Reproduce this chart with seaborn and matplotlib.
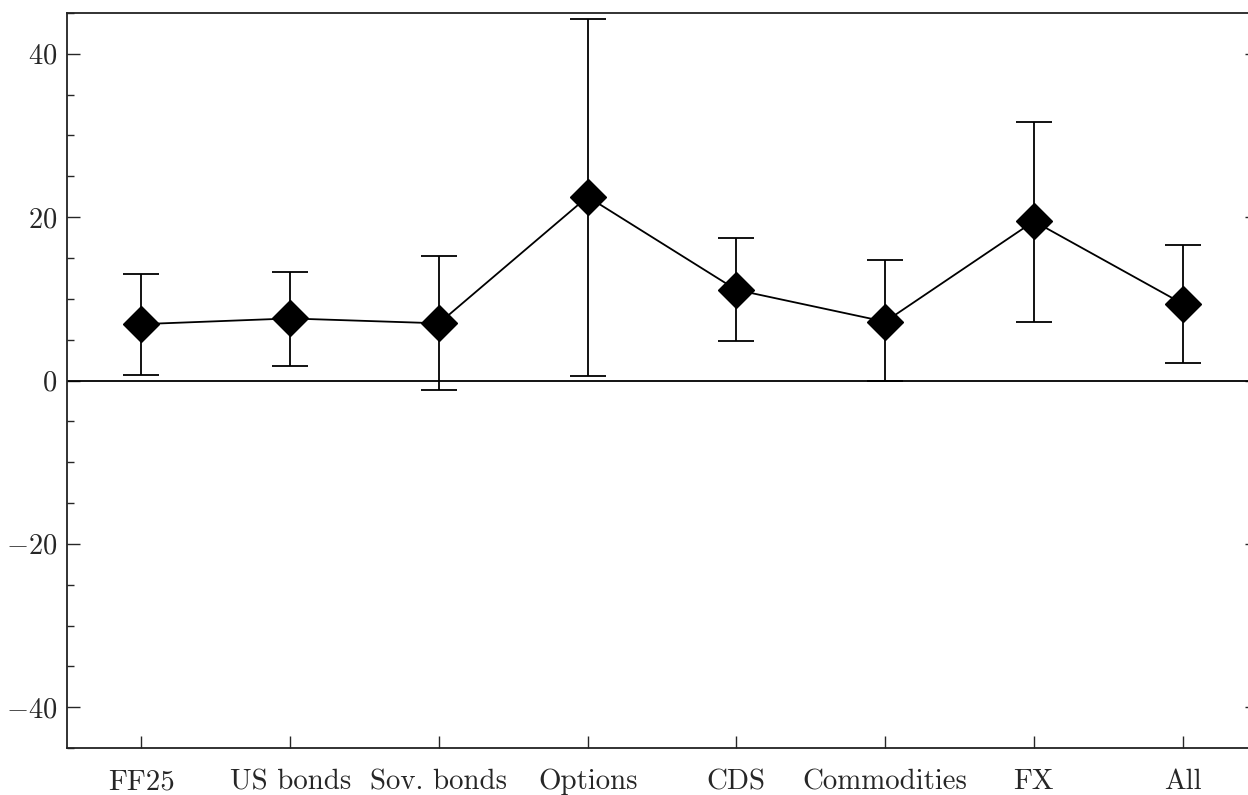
import matplotlib
matplotlib.use("Agg")
import numpy as np
import pandas as pd
import matplotlib.pyplot as plt
from matplotlib.ticker import MultipleLocator
import seaborn as sns

# values
categories = ["FF25", "US bonds", "Sov. bonds", "Options", "CDS", "Commodities", "FX", "All"]
estimate = [6.9, 7.6, 7.0, 22.5, 11.1, 7.2, 19.5, 9.4]
ci_low = [0.7, 1.8, -1.2, 0.6, 4.8, -0.1, 7.2, 2.1]
ci_high = [13.1, 13.3, 15.3, 44.3, 17.4, 14.8, 31.6, 16.6]

sns.set_theme(style="ticks")
plt.rcParams["font.family"] = ["cmr10", "DejaVu Serif"]
plt.rcParams["mathtext.fontset"] = "cm"
plt.rcParams["axes.formatter.use_mathtext"] = True
plt.rcParams["axes.unicode_minus"] = True

df = pd.DataFrame({"category": categories, "estimate": estimate})

fig = plt.figure(figsize=(12.48, 7.95), dpi=100)
ax = fig.add_axes([67 / 1248, 47 / 795, 1190 / 1248, 735 / 795])

x = np.arange(len(categories))
est = np.array(estimate)
yerr = np.vstack([est - np.array(ci_low), np.array(ci_high) - est])

# zero line and confidence bands
ax.axhline(0, color="black", lw=1.3, zorder=1)
ax.errorbar(x, est, yerr=yerr, fmt="none", ecolor="black", elinewidth=1.3,
            capsize=13, capthick=1.3, zorder=2)
sns.pointplot(data=df, x="category", y="estimate", color="black", markers="D",
              linestyles="-", errorbar=None, ax=ax, zorder=3,
              markersize=18, linewidth=1.3)

ax.set_xlim(-0.5, 7.5)
ax.set_ylim(-45, 45)
ax.set_xlabel("")
ax.set_ylabel("")
ax.set_yticks([-40, -20, 0, 20, 40])
ax.yaxis.set_minor_locator(MultipleLocator(5))

for side in ["left", "right", "top", "bottom"]:
    ax.spines[side].set_visible(True)
    ax.spines[side].set_color("#222222")
    ax.spines[side].set_linewidth(1.3)

ax.tick_params(axis="y", which="major", direction="in", length=9, width=1,
               left=True, right=True, labelsize=20.5, pad=7)
ax.tick_params(axis="y", which="minor", direction="in", length=5, width=1,
               left=True, right=True)
ax.tick_params(axis="x", which="major", direction="in", length=9, width=1,
               bottom=True, top=False, labelsize=20.8, pad=15)

fig.savefig("out.png", dpi=100)
